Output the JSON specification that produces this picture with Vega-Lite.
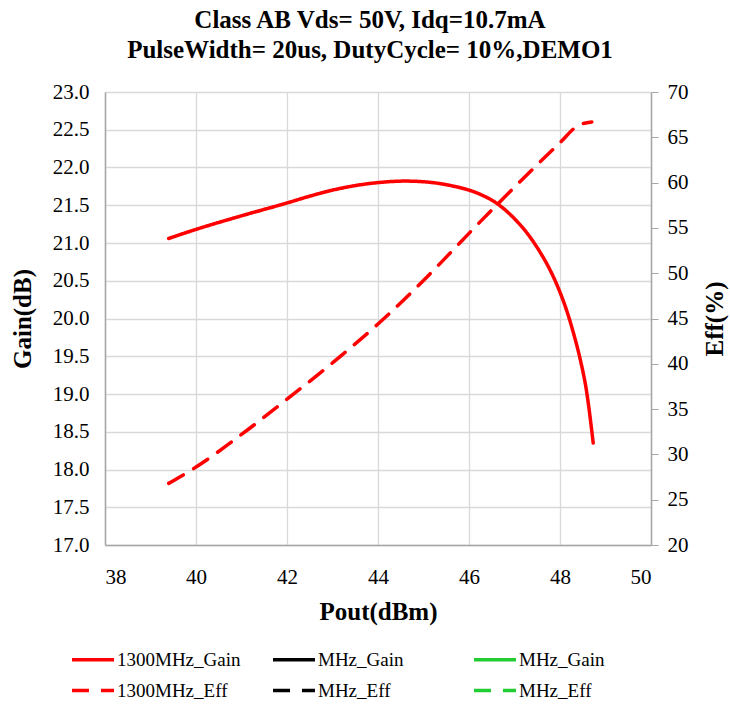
{
  "$schema": "https://vega.github.io/schema/vega-lite/v6.json",
  "width": 546,
  "height": 453,
  "autosize": {"type": "none"},
  "padding": {"left": 105, "top": 92, "right": 79, "bottom": 165},
  "background": "white",
  "title": {
    "text": ["Class AB Vds= 50V, Idq=10.7mA", "PulseWidth= 20us, DutyCycle= 10%,DEMO1"],
    "font": "Liberation Serif",
    "fontSize": 25,
    "fontWeight": "bold",
    "color": "#000000",
    "anchor": "middle",
    "lineHeight": 30,
    "offset": 18,
    "dx": -8
  },
  "config": {
    "view": {"stroke": null},
    "axis": {
      "labelFont": "Liberation Serif",
      "labelFontSize": 21,
      "labelColor": "#000000",
      "titleFont": "Liberation Serif",
      "titleFontSize": 25,
      "titleFontWeight": "bold",
      "titleColor": "#000000",
      "domainColor": "#a6a6a6",
      "domainWidth": 1.5,
      "gridColor": "#d9d9d9",
      "gridWidth": 1.3,
      "tickColor": "#a6a6a6"
    },
    "legend": {
      "labelFont": "Liberation Serif",
      "labelFontSize": 19,
      "labelColor": "#000000"
    }
  },
  "datasets": {
    "gain": [
      {"pout": 39.4, "value": 21.06, "series": "1300MHz_Gain"},
      {"pout": 40.0, "value": 21.18, "series": "1300MHz_Gain"},
      {"pout": 41.0, "value": 21.36, "series": "1300MHz_Gain"},
      {"pout": 42.0, "value": 21.53, "series": "1300MHz_Gain"},
      {"pout": 42.5, "value": 21.62, "series": "1300MHz_Gain"},
      {"pout": 43.0, "value": 21.70, "series": "1300MHz_Gain"},
      {"pout": 43.5, "value": 21.76, "series": "1300MHz_Gain"},
      {"pout": 44.0, "value": 21.80, "series": "1300MHz_Gain"},
      {"pout": 44.6, "value": 21.82, "series": "1300MHz_Gain"},
      {"pout": 45.2, "value": 21.80, "series": "1300MHz_Gain"},
      {"pout": 45.6, "value": 21.76, "series": "1300MHz_Gain"},
      {"pout": 46.0, "value": 21.70, "series": "1300MHz_Gain"},
      {"pout": 46.3, "value": 21.63, "series": "1300MHz_Gain"},
      {"pout": 46.6, "value": 21.53, "series": "1300MHz_Gain"},
      {"pout": 46.83, "value": 21.42, "series": "1300MHz_Gain"},
      {"pout": 47.05, "value": 21.29, "series": "1300MHz_Gain"},
      {"pout": 47.34, "value": 21.08, "series": "1300MHz_Gain"},
      {"pout": 47.56, "value": 20.88, "series": "1300MHz_Gain"},
      {"pout": 47.75, "value": 20.68, "series": "1300MHz_Gain"},
      {"pout": 47.93, "value": 20.45, "series": "1300MHz_Gain"},
      {"pout": 48.05, "value": 20.27, "series": "1300MHz_Gain"},
      {"pout": 48.15, "value": 20.10, "series": "1300MHz_Gain"},
      {"pout": 48.29, "value": 19.82, "series": "1300MHz_Gain"},
      {"pout": 48.44, "value": 19.47, "series": "1300MHz_Gain"},
      {"pout": 48.58, "value": 19.05, "series": "1300MHz_Gain"},
      {"pout": 48.73, "value": 18.35, "series": "1300MHz_Gain"}
    ],
    "eff": [
      {"pout": 39.4, "value": 26.8, "series": "1300MHz_Eff"},
      {"pout": 40.0, "value": 28.6, "series": "1300MHz_Eff"},
      {"pout": 41.0, "value": 32.2, "series": "1300MHz_Eff"},
      {"pout": 42.0, "value": 36.1, "series": "1300MHz_Eff"},
      {"pout": 43.0, "value": 40.1, "series": "1300MHz_Eff"},
      {"pout": 44.0, "value": 44.4, "series": "1300MHz_Eff"},
      {"pout": 45.0, "value": 49.2, "series": "1300MHz_Eff"},
      {"pout": 45.6, "value": 52.3, "series": "1300MHz_Eff"},
      {"pout": 46.0, "value": 54.4, "series": "1300MHz_Eff"},
      {"pout": 47.0, "value": 59.5, "series": "1300MHz_Eff"},
      {"pout": 48.0, "value": 64.4, "series": "1300MHz_Eff"},
      {"pout": 48.4, "value": 66.3, "series": "1300MHz_Eff"},
      {"pout": 48.7, "value": 66.7, "series": "1300MHz_Eff"}
    ]
  },
  "layer": [
    {
      "data": {"name": "gain"},
      "mark": {"type": "line", "strokeWidth": 3.5, "interpolate": "monotone", "strokeCap": "round"},
      "encoding": {
        "x": {
          "field": "pout", "type": "quantitative",
          "scale": {"domain": [38, 50], "nice": false},
          "axis": {"title": "Pout(dBm)", "values": [38, 40, 42, 44, 46, 48, 50], "ticks": false, "labelPadding": 21, "titlePadding": 12, "grid": true}
        },
        "y": {
          "field": "value", "type": "quantitative",
          "scale": {"domain": [17, 23], "nice": false, "zero": false},
          "axis": {"title": "Gain(dB)", "orient": "left", "values": [17, 17.5, 18, 18.5, 19, 19.5, 20, 20.5, 21, 21.5, 22, 22.5, 23], "format": ".1f", "ticks": false, "labelPadding": 16, "titlePadding": 17, "grid": true}
        },
        "color": {
          "field": "series", "type": "nominal",
          "scale": {
            "domain": ["1300MHz_Gain", "1300MHz_Eff", "B_MHz_Gain", "B_MHz_Eff", "G_MHz_Gain", "G_MHz_Eff"],
            "range": ["#ff0000", "#ff0000", "#000000", "#000000", "#22cc33", "#22cc33"]
          },
          "legend": {
            "title": null, "orient": "none", "legendX": -24.5, "legendY": 555,
            "columns": 3, "gridAlign": "all", "columnPadding": 25, "rowPadding": 8,
            "symbolType": "M-2,0H2", "symbolSize": 441, "symbolStrokeWidth": 3.5, "labelOffset": 11.5,
            "labelExpr": "substring(datum.label, 0, 2) == 'B_' || substring(datum.label, 0, 2) == 'G_' ? substring(datum.label, 2) : datum.label"
          }
        },
        "strokeDash": {
          "field": "series", "type": "nominal",
          "scale": {
            "domain": ["1300MHz_Gain", "1300MHz_Eff", "B_MHz_Gain", "B_MHz_Eff", "G_MHz_Gain", "G_MHz_Eff"],
            "range": [[1, 0], [17, 12], [1, 0], [17, 12], [1, 0], [17, 12]]
          },
          "legend": {
            "title": null, "orient": "none", "legendX": -24.5, "legendY": 555,
            "columns": 3, "gridAlign": "all", "columnPadding": 25, "rowPadding": 8,
            "symbolType": "M-2,0H2", "symbolSize": 441, "symbolStrokeWidth": 3.5, "labelOffset": 11.5,
            "labelExpr": "substring(datum.label, 0, 2) == 'B_' || substring(datum.label, 0, 2) == 'G_' ? substring(datum.label, 2) : datum.label"
          }
        }
      }
    },
    {
      "data": {"name": "eff"},
      "mark": {"type": "line", "strokeWidth": 3.5, "interpolate": "monotone", "strokeCap": "round"},
      "encoding": {
        "x": {"field": "pout", "type": "quantitative"},
        "y": {
          "field": "value", "type": "quantitative",
          "scale": {"domain": [20, 70], "nice": false, "zero": false},
          "axis": {"title": "Eff(%)", "orient": "right", "values": [20, 25, 30, 35, 40, 45, 50, 55, 60, 65, 70], "ticks": true, "tickSize": 7, "labelPadding": 9, "titlePadding": 14, "titleAngle": 270, "titleBaseline": "top", "grid": false}
        },
        "color": {"field": "series", "type": "nominal"},
        "strokeDash": {"field": "series", "type": "nominal"}
      }
    }
  ],
  "resolve": {"scale": {"y": "independent"}, "axis": {"y": "independent"}}
}
